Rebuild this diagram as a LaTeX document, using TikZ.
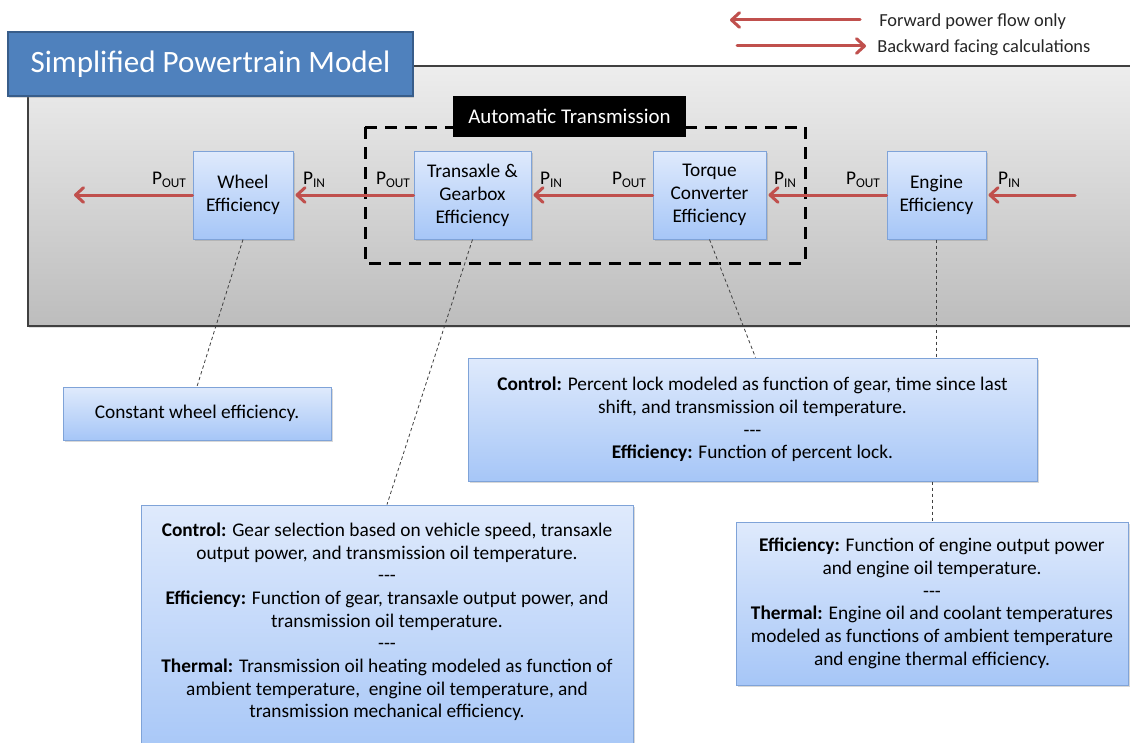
\documentclass[tikz,border=0pt]{standalone}
\usepackage{fontspec}
\setmainfont{Carlito}
\usetikzlibrary{arrows.meta,shadows,calc}
\definecolor{arrowred}{HTML}{C0504D}
\definecolor{titleblue}{HTML}{4F81BD}
\definecolor{titleborder}{HTML}{385D8A}
\definecolor{boxtop}{HTML}{DFEAFC}
\definecolor{boxbot}{HTML}{A6C6F7}
\definecolor{boxborder}{HTML}{7FA3D8}
\newcommand{\Plab}[1]{P\raisebox{-0.35ex}{\fontsize{10}{11}\selectfont #1}}
\newcommand{\sep}{{-}{-}{-}}
\tikzset{
  effbox/.style={draw=boxborder, line width=0.75pt, top color=boxtop, bottom color=boxbot,
    align=center, font=\fontsize{14.5}{17.2}\selectfont, inner sep=0pt,
    drop shadow={shadow xshift=1.5pt, shadow yshift=-1.5pt, opacity=0.3}},
  notebox/.style={effbox, font=\fontsize{14.5}{17}\selectfont},
  notetext/.style={align=center, font=\fontsize{14.5}{17}\selectfont, inner sep=0pt},
  plabel/.style={font=\fontsize{14.5}{16}\selectfont, inner sep=0pt},
  pflow/.style={draw=arrowred, line width=2.25pt, line cap=round,
    -{Straight Barb[length=6pt,width=11pt,round]}},
  link/.style={draw=black!75, line width=0.6pt, dash pattern=on 2.5pt off 2pt},
  legtext/.style={anchor=west, font=\fontsize{13.8}{16}\selectfont, inner sep=0pt, text=black!85}
}
\begin{document}
\begin{tikzpicture}[x=0.75pt,y=-0.75pt]
\clip (0,0) rectangle (1130,742);
\fill[white] (0,0) rectangle (1130,742);
% gray band
\draw[draw=black!75, line width=1.1pt, top color=black!7, bottom color=black!26,
  drop shadow={shadow xshift=1pt, shadow yshift=-1.5pt, opacity=0.25}] (28,66) rectangle (1145,326);
% dashed automatic transmission frame
\draw[line width=2.25pt, dash pattern=on 9pt off 6pt] (365,127) rectangle (805,263);
\node[fill=black, text=white, minimum width=174.75pt, minimum height=30.75pt, inner sep=0pt,
  font=\fontsize{15.7}{18}\selectfont] (atlabel) at (569.5,116.5) {Automatic Transmission};
% title
\node[draw=titleborder, line width=1.1pt, fill=titleblue, text=white, minimum width=303.75pt,
  minimum height=48pt, inner sep=0pt, font=\fontsize{23.3}{26}\selectfont,
  drop shadow={shadow xshift=1pt, shadow yshift=-1.5pt, opacity=0.3}] (title) at (210.5,64) {Simplified Powertrain Model};
% legend
\coordinate (lg1a) at (860,20);
\coordinate (lg1b) at (730,20);
\coordinate (lg2a) at (737,46);
\coordinate (lg2b) at (866,46);
\draw[pflow] (lg1a) -- (lg1b);
\draw[pflow] (lg2a) -- (lg2b);
\node[legtext] (leg1) at (879,22) {Forward power flow only};
\node[legtext] (leg2) at (877,48) {Backward facing calculations};
% efficiency boxes
\node[effbox, minimum width=75pt, minimum height=66pt] (wheel) at (243,195) {Wheel\\Efficiency};
\node[effbox, minimum width=87.75pt, minimum height=66pt] (trans) at (472.5,195) {Transaxle \&\\Gearbox\\Efficiency};
\node[effbox, minimum width=84.75pt, minimum height=66pt] (torque) at (709.5,195) {Torque\\Converter\\Efficiency};
\node[effbox, minimum width=74.25pt, minimum height=66pt] (engine) at (936.5,195) {Engine\\Efficiency};
% flow arrows
\coordinate (outL) at (74,195);
\coordinate (inR) at (1075,195);
\draw[pflow] (wheel.west) -- (outL);
\draw[pflow] (trans.west) -- ([xshift=1.5pt]wheel.east);
\draw[pflow] (torque.west) -- ([xshift=1.5pt]trans.east);
\draw[pflow] (engine.west) -- ([xshift=1.5pt]torque.east);
\draw[pflow] (inR) -- ([xshift=1.5pt]engine.east);
% power labels
\node[plabel] (po1) at (169,180) {\Plab{OUT}};
\node[plabel] (pi1) at (314,180) {\Plab{IN}};
\node[plabel] (po2) at (393,180) {\Plab{OUT}};
\node[plabel] (pi2) at (551,180) {\Plab{IN}};
\node[plabel] (po3) at (629,180) {\Plab{OUT}};
\node[plabel] (pi3) at (785,180) {\Plab{IN}};
\node[plabel] (po4) at (863,180) {\Plab{OUT}};
\node[plabel] (pi4) at (1009,180) {\Plab{IN}};
% notes
\node[notebox, minimum width=201pt, minimum height=39.75pt] (wnote) at (197,413.5) {Constant wheel efficiency.};
\node[notebox, minimum width=426.75pt, minimum height=92.25pt] (qnote) at (752.5,419.5)
  {\textbf{Control:} Percent lock modeled as function of gear, time since last\\
   shift, and transmission oil temperature.\\\sep\\\textbf{Efficiency:} Function of percent lock.};
\node[notebox, minimum width=369pt, minimum height=191.25pt] (tnote) at (387,632.5) {};
\node[notetext] (ttext) at (387,622)
  {\textbf{Control:} Gear selection based on vehicle speed, transaxle\\
   output power, and transmission oil temperature.\\\sep\\
   \textbf{Efficiency:} Function of gear, transaxle output power, and\\
   transmission oil temperature.\\\sep\\
   \textbf{Thermal:} Transmission oil heating modeled as function of\\
   ambient temperature,\ \ engine oil temperature, and\\
   transmission mechanical efficiency.};
\node[notebox, minimum width=294pt, minimum height=122.25pt] (enote) at (932,603.5)
  {\textbf{Efficiency:} Function of engine output power\\
   and engine oil temperature.\\\sep\\
   \textbf{Thermal:} Engine oil and coolant temperatures\\
   modeled as functions of ambient temperature\\
   and engine thermal efficiency.};
% dotted links
\draw[link] (wheel.south) -- (wnote.north);
\draw[link] (trans.south) -- (tnote.north);
\draw[link] (torque.south) -- ($(qnote.north)+(3,0)$);
\draw[link] (engine.south) -- (engine.south |- qnote.north);
\draw[link] (qnote.south -| enote.north) -- (enote.north);
\end{tikzpicture}
\end{document}
